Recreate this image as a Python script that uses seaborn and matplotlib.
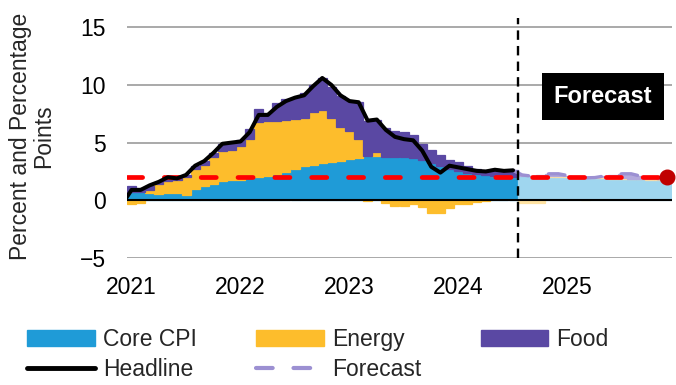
import numpy as np
import pandas as pd
import matplotlib
matplotlib.use("Agg")
import matplotlib.pyplot as plt
import seaborn as sns
from matplotlib.patches import Patch
from matplotlib.lines import Line2D

# ---------------- data ----------------
year_labels = ["2021", "2022", "2023", "2024", "2025"]
yticks = [-5, 0, 5, 10, 15]
target = 2.0

# Headline, Dec 2020 .. Jul 2024 (first point is just left of the axis)
headline = [-0.3,
            0.9, 0.9, 1.3, 1.6, 2.0, 1.9, 2.2, 3.0, 3.4, 4.1, 4.9, 5.0,
            5.1, 5.9, 7.4, 7.4, 8.1, 8.6, 8.9, 9.1, 9.9, 10.6, 10.0, 9.1,
            8.6, 8.5, 6.9, 7.0, 6.1, 5.5, 5.3, 5.2, 4.3, 2.9, 2.4, 3.0,
            2.85, 2.7, 2.55, 2.5, 2.65, 2.55, 2.6]

# Contributions, Jan 2021 .. Jul 2024
core = [0.7, 0.72, 0.63, 0.58, 0.65, 0.6, 0.5, 1.0, 1.2, 1.4, 1.7, 1.8,
        1.8, 1.95, 2.0, 2.15, 2.3, 2.45, 2.7, 3.0, 3.1, 3.2, 3.3, 3.45,
        3.55, 3.65, 3.8, 3.85, 3.75, 3.75, 3.75, 3.7, 3.5, 3.2, 3.0, 2.7,
        2.5, 2.4, 2.3, 2.2, 2.1, 2.05, 2.0]
energy = [-0.35, -0.2, 0.25, 0.8, 1.05, 1.15, 1.5, 1.7, 1.9, 2.35, 2.6, 2.6,
          2.9, 3.4, 4.8, 4.7, 4.55, 4.5, 4.35, 4.1, 4.55, 4.65, 3.85, 2.9,
          2.45, 1.65, -0.05, 0.3, -0.25, -0.5, -0.5, -0.35, -0.6, -1.1, -1.1, -0.65,
          -0.3, -0.3, -0.15, -0.1, 0.05, 0.05, 0.05]
food = [0.55, 0.38, 0.35, 0.25, 0.25, 0.2, 0.2, 0.3, 0.3, 0.35, 0.55, 0.65,
        0.5, 0.85, 1.1, 0.7, 1.55, 1.8, 1.85, 2.2, 2.35, 2.75, 2.65, 2.65,
        2.6, 3.2, 3.1, 2.85, 2.55, 2.3, 2.15, 2.0, 1.4, 1.2, 0.9, 0.8,
        0.85, 0.6, 0.45, 0.4, 0.55, 0.55, 0.6]

# Forecast contributions, Aug 2024 .. Dec 2025
core_fc = [2.1, 2.08, 2.06, 2.04, 2.02, 2.0, 1.97, 1.95, 1.93, 1.9, 1.88, 1.86,
           1.84, 1.82, 1.8, 1.77, 1.75]
energy_fc = [-0.2, -0.25, -0.2, 0.05, 0.1, 0.1, 0.05, 0.0, 0.05, 0.1, 0.1, 0.05,
             0.05, 0.05, 0.05, 0.05, 0.05]
food_fc = [0.1, 0.05, 0.12, 0.2, 0.18, 0.05, 0.03, 0.02, 0.03, 0.1, 0.18, 0.35,
           0.38, 0.2, 0.1, 0.06, 0.1]
# Forecast headline, Jul 2024 .. Dec 2025
forecast = [2.6, 2.2, 2.1, 2.2, 2.3, 2.3, 2.15, 2.0, 1.95, 1.97, 2.1, 2.17,
            2.3, 2.3, 2.1, 1.95, 1.88, 1.9]

# ---------------- style ----------------
C_CORE, C_EN, C_FOOD = "#1f9bd7", "#fdbd2c", "#5a48a3"
C_CORE_L, C_EN_L, C_FOOD_L = "#9fd6ef", "#ffe3a3", "#b3a9dc"
C_FC = "#9c90d2"
FS = 16.5

sns.set_theme(style="white")
plt.rcParams["font.family"] = ["Liberation Sans", "DejaVu Sans"]

fig = plt.figure(figsize=(6.76, 3.85), dpi=100)
ax = fig.add_axes([127 / 676, 1 - 258 / 385, 545 / 676, 240 / 385])

n_act = len(core)
x_act = np.arange(n_act)
x_fc = np.arange(n_act, n_act + len(core_fc))
x_all = np.arange(n_act + len(core_fc))


def stack(x, c, e, f, cols):
    c = np.asarray(c, float)
    e = np.asarray(e, float)
    f = np.asarray(f, float)
    kw = dict(width=1.0, linewidth=0.9, zorder=2)
    ax.bar(x, c, color=cols[0], edgecolor=cols[0], **kw)
    ax.bar(x, e, bottom=np.where(e > 0, c, 0), color=cols[1], edgecolor=cols[1], **kw)
    ax.bar(x, f, bottom=c + np.clip(e, 0, None), color=cols[2], edgecolor=cols[2], **kw)


# gridlines
for v in yticks:
    if v != 0:
        ax.axhline(v, color="#a3a3a3", lw=1.3, zorder=0)

stack(x_act, core, energy, food, (C_CORE, C_EN, C_FOOD))
stack(x_fc, core_fc, energy_fc, food_fc, (C_CORE_L, C_EN_L, C_FOOD_L))

ax.axhline(0, color="black", lw=1.5, zorder=3)

# forecast line
fc_df = pd.DataFrame({"x": np.arange(n_act - 1, n_act - 1 + len(forecast)), "v": forecast})
sns.lineplot(data=fc_df, x="x", y="v", ax=ax, color=C_FC, lw=2.4,
             linestyle=(0, (5, 6)), zorder=4)
ax.lines[-1].set_dash_capstyle("round")

# target line
tgt_df = pd.DataFrame({"x": [x_all[0] - 0.5, x_all[-1]], "v": [target, target]})
sns.lineplot(data=tgt_df, x="x", y="v", ax=ax, color="#ff0000", lw=3.4,
             linestyle=(0, (3.2, 4.6)), zorder=5)
ax.lines[-1].set_dash_capstyle("round")

# headline
hl_df = pd.DataFrame({"x": np.arange(-1, n_act), "v": headline})
sns.lineplot(data=hl_df, x="x", y="v", ax=ax, color="black", lw=2.9, zorder=6)
ax.lines[-1].set_solid_joinstyle("round")

# end dot
ax.plot([x_all[-1]], [target], "o", ms=10.5, color="#c00000", zorder=7, clip_on=False)

# forecast divider
ax.axvline(n_act - 0.5, color="black", lw=1.7, linestyle=(0, (4, 2.6)), zorder=6)

ax.text(51.9, 9.0, "Forecast", color="white", fontweight="bold", fontsize=FS + 0.5,
        ha="center", va="center", zorder=8,
        bbox=dict(boxstyle="square,pad=0.5", fc="black", ec="none"))

ax.set_xlim(-0.5, x_all[-1] + 0.5)
ax.set_ylim(-5, 15.8)
ax.set_xticks(np.arange(0, len(x_all), 12))
ax.set_xticklabels(year_labels)
ax.set_yticks(yticks)
ax.set_yticklabels([f"{v}".replace("-", "\u2212") for v in yticks])
ax.tick_params(axis="both", length=0, labelsize=FS, colors="black")
ax.tick_params(axis="y", pad=15)
ax.tick_params(axis="x", pad=13)
ax.set_xlabel("")
ax.set_ylabel("")
for s in ax.spines.values():
    s.set_visible(False)
ax.grid(False)

fig.text(0.048, 0.645, "Percent and Percentage\nPoints", rotation=90, ha="center",
         va="center", fontsize=FS, linespacing=1.0, multialignment="center")

handles = [Patch(color=C_CORE), Line2D([], [], color="black", lw=3.5),
           Patch(color=C_EN),
           Line2D([], [], color=C_FC, lw=3.0, linestyle=(0, (4, 5)), dash_capstyle="round"),
           Patch(color=C_FOOD)]
labels = ["Core CPI", "Headline", "Energy", "Forecast", "Food"]
fig.legend(handles, labels, ncol=3, loc="upper left", bbox_to_anchor=(0.04, 0.148),
           frameon=False, fontsize=FS, handlelength=2.95, handleheight=0.7,
           handletextpad=0.35, columnspacing=2.6, labelspacing=0.3,
           borderpad=0, borderaxespad=0)

fig.savefig("out.png", dpi=100)
